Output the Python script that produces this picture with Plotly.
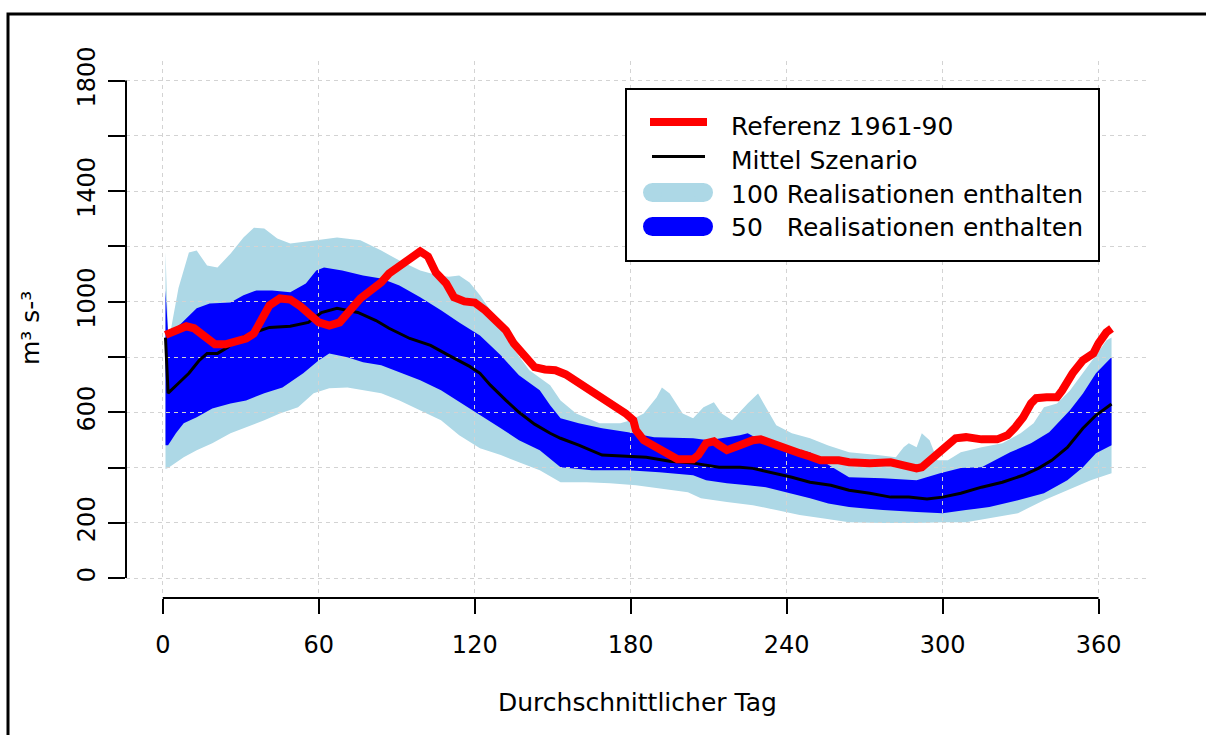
import plotly.graph_objects as go

# ---- daily discharge, reference period 1961-90 ----
ref_day = [1, 5, 9, 12, 16, 20, 24, 28, 32, 35, 38, 41, 45, 49, 53, 57, 60, 64, 68, 72,
           76, 80, 84, 87, 91, 95, 99, 102, 105, 109, 112, 116, 120, 124, 128, 132, 135,
           139, 143, 147, 151, 155, 159, 165, 172, 178, 181, 182, 185, 190, 194, 198, 204,
           206, 209, 212, 214, 217, 222, 227, 230, 235, 240, 245, 249, 253, 260, 264, 272,
           280, 285, 290, 292, 298, 302, 305, 309, 315, 321, 325, 328, 331, 334, 336, 340,
           344, 346, 350, 354, 358, 360, 363, 365]
ref_val = [880, 896, 911, 904, 871, 846, 846, 857, 867, 885, 940, 987, 1012, 1008, 983, 950,
           925, 914, 925, 969, 1012, 1041, 1070, 1102, 1131, 1157, 1182, 1164, 1106, 1066,
           1016, 1001, 997, 969, 932, 896, 849, 806, 763, 755, 752, 737, 712, 680, 632, 596,
           571, 535, 499, 470, 452, 430, 430, 445, 488, 495, 481, 463, 481, 499, 502, 484,
           463, 452, 440, 426, 426, 419, 416, 419, 408, 397, 401, 452, 488, 506, 510, 502,
           502, 517, 546, 582, 632, 651, 654, 654, 679, 741, 788, 813, 849, 889, 903]

# ---- scenario mean ----
mean_day = [1, 2, 6, 10, 14, 17, 21, 25, 28, 34, 41, 49, 56, 61, 67, 75, 82, 87, 95, 103,
            110, 118, 122, 126, 132, 137, 143, 149, 153, 160, 169, 178, 186, 195, 204, 214,
            222, 227, 234, 242, 249, 257, 264, 272, 280, 287, 294, 300, 307, 315, 323, 331,
            337, 342, 348, 354, 359, 365]
mean_val = [870, 669, 705, 741, 788, 813, 813, 835, 860, 885, 907, 911, 925, 961, 976, 961,
            932, 904, 867, 842, 806, 766, 741, 698, 643, 600, 557, 524, 506, 481, 445, 441,
            437, 423, 416, 401, 401, 397, 383, 365, 347, 336, 318, 307, 293, 293, 286, 293,
            307, 329, 347, 372, 398, 426, 473, 542, 589, 630]

# ---- envelope holding all 100 realisations ----
r100_hi_day = [1, 2, 3, 6, 10, 13, 17, 21, 26, 31, 35, 39, 44, 49, 59, 67, 76, 84, 91, 99,
               106, 110, 114, 118, 122, 126, 134, 141, 149, 153, 159, 168, 176, 180, 185,
               190, 192, 195, 200, 204, 208, 212, 215, 219, 225, 229, 232, 236, 242, 249,
               256, 264, 275, 282, 285, 287, 290, 292, 295, 298, 302, 307, 315, 323, 330,
               335, 339, 344, 349, 354, 359, 363, 365]
r100_hi = [1180, 890, 896, 1050, 1178, 1185, 1131, 1124, 1174, 1232, 1268, 1265, 1229, 1211,
           1222, 1232, 1222, 1185, 1149, 1113, 1095, 1090, 1095, 1070, 1023, 968, 842, 752,
           698, 643, 596, 560, 560, 571, 596, 654, 690, 668, 596, 578, 618, 636, 596, 571,
           632, 668, 618, 553, 524, 506, 480, 455, 445, 437, 473, 488, 473, 524, 499, 426,
           426, 455, 473, 488, 524, 560, 618, 632, 679, 741, 806, 860, 871]
r100_lo_day = [1, 2, 8, 13, 19, 26, 32, 39, 45, 52, 58, 64, 71, 77, 84, 91, 99, 107, 114,
               122, 130, 137, 145, 153, 163, 172, 182, 191, 202, 207, 217, 227, 236, 245,
               255, 264, 277, 290, 300, 309, 318, 329, 339, 348, 357, 365]
r100_lo = [395, 398, 437, 463, 488, 524, 546, 571, 596, 618, 669, 687, 690, 679, 669, 643,
           607, 571, 517, 470, 445, 419, 390, 347, 347, 343, 336, 325, 311, 289, 275, 264,
           246, 228, 215, 202, 199, 199, 202, 202, 217, 235, 282, 318, 354, 379]

# ---- envelope holding 50 realisations ----
r50_hi_day = [1, 2, 7, 13, 18, 26, 31, 36, 42, 49, 55, 59, 62, 69, 77, 84, 91, 99, 107, 114,
              122, 130, 137, 145, 149, 153, 160, 169, 179, 189, 204, 210, 222, 225, 230, 240,
              249, 256, 264, 277, 290, 299, 307, 315, 326, 334, 341, 349, 354, 359, 365]
r50_hi = [1041, 885, 921, 976, 994, 997, 1023, 1041, 1041, 1034, 1066, 1113, 1124, 1113,
          1095, 1084, 1059, 1016, 969, 925, 878, 806, 734, 680, 625, 578, 560, 542, 528, 510,
          506, 499, 517, 524, 499, 473, 455, 410, 365, 361, 354, 379, 398, 401, 455, 488, 528,
          607, 668, 741, 799]
r50_lo_day = [1, 2, 5, 8, 13, 19, 26, 32, 39, 46, 54, 60, 64, 71, 77, 84, 91, 99, 107, 114,
              122, 130, 137, 145, 153, 165, 179, 191, 204, 209, 217, 225, 232, 240, 249, 256,
              264, 277, 290, 300, 309, 318, 329, 339, 348, 354, 359, 365]
r50_lo = [481, 481, 524, 560, 582, 614, 632, 643, 669, 690, 741, 788, 813, 799, 781, 770, 745,
          716, 680, 636, 589, 542, 499, 463, 401, 390, 390, 383, 372, 354, 343, 336, 329, 311,
          289, 270, 257, 246, 239, 235, 246, 257, 282, 307, 354, 401, 452, 481]

x_ticks = [0, 60, 120, 180, 240, 300, 360]
y_ticks = [0, 200, 400, 600, 800, 1000, 1200, 1400, 1600, 1800]
y_tick_text = ["0", "200", "", "600", "", "1000", "", "1400", "", "1800"]

legend_labels = ["Referenz 1961-90", "Mittel Szenario",
                 "100 Realisationen enthalten", "50   Realisationen enthalten"]

RED = "#FF0000"
LIGHTBLUE = "#ADD8E6"
BLUE = "#0000FF"
GRID = "#D3D3D3"
FONT = "DejaVu Sans"

# page and plot-region geometry (pixels)
W, H = 1206, 735
L, R, T, B = 126, 1150, 61, 598
X_RANGE = [-14.2, 379.8]
Y_RANGE = [-72, 1871]


def px(x):
    return (x - L) / (R - L)


def py(y):
    return (B - y) / (B - T)


fig = go.Figure()

# bands on the lower subplot, so the grid of the upper subplot lies on top of them
fig.add_trace(go.Scatter(
    x=r100_hi_day + r100_lo_day[::-1], y=r100_hi + r100_lo[::-1],
    fill="toself", fillcolor=LIGHTBLUE, line=dict(width=0), mode="lines",
    hoverinfo="skip", xaxis="x", yaxis="y"))
fig.add_trace(go.Scatter(
    x=r50_hi_day + r50_lo_day[::-1], y=r50_hi + r50_lo[::-1],
    fill="toself", fillcolor=BLUE, line=dict(width=0), mode="lines",
    hoverinfo="skip", xaxis="x", yaxis="y"))

# lines above the grid
fig.add_trace(go.Scatter(x=mean_day, y=mean_val, mode="lines",
                         line=dict(color="black", width=3),
                         xaxis="x2", yaxis="y2"))
fig.add_trace(go.Scatter(x=ref_day, y=ref_val, mode="lines",
                         line=dict(color=RED, width=8),
                         xaxis="x2", yaxis="y2"))

tick_font = dict(family=FONT, size=24, color="black")

shapes = [
    # outer frame
    dict(type="rect", xref="paper", yref="paper",
         x0=px(8), x1=px(1240), y0=py(780), y1=py(14),
         line=dict(color="black", width=3), fillcolor="rgba(0,0,0,0)", layer="above"),
    # axis lines spanning the tick range only
    dict(type="line", xref="paper", yref="y", x0=0, x1=0, y0=y_ticks[0], y1=y_ticks[-1],
         line=dict(color="black", width=2)),
    dict(type="line", xref="x", yref="paper", x0=x_ticks[0], x1=x_ticks[-1], y0=0, y1=0,
         line=dict(color="black", width=2)),
    # legend box
    dict(type="rect", xref="paper", yref="paper",
         x0=px(626), x1=px(1099), y0=py(261), y1=py(89),
         line=dict(color="black", width=2), fillcolor="white"),
    dict(type="line", xref="paper", yref="paper",
         x0=px(650), x1=px(707), y0=py(122), y1=py(122),
         line=dict(color=RED, width=8)),
    dict(type="line", xref="paper", yref="paper",
         x0=px(652), x1=px(705), y0=py(156.5), y1=py(156.5),
         line=dict(color="black", width=3)),
]

# rounded keys for the two bands
for color, yc in [(LIGHTBLUE, 192.5), (BLUE, 226.5)]:
    half = 9.5
    shapes.append(dict(type="rect", xref="paper", yref="paper",
                       x0=px(652), x1=px(704), y0=py(yc + half), y1=py(yc - half),
                       fillcolor=color, line=dict(width=0)))
    for cx in (652.5, 703.5):
        shapes.append(dict(type="circle", xref="paper", yref="paper",
                           x0=px(cx - half), x1=px(cx + half),
                           y0=py(yc + half), y1=py(yc - half),
                           fillcolor=color, line=dict(width=0)))

annotations = []
for label, yc in zip(legend_labels, [127, 160.5, 194.5, 227.5]):
    annotations.append(dict(text=label, xref="paper", yref="paper",
                            x=px(729), y=py(yc), xanchor="left", yanchor="middle",
                            showarrow=False, font=dict(family=FONT, size=25, color="black")))

annotations.append(dict(text="Durchschnittlicher Tag", xref="paper", yref="paper",
                        x=px(637), y=py(702), xanchor="center", yanchor="middle",
                        showarrow=False, font=dict(family=FONT, size=25, color="black")))
annotations.append(dict(text="m³ s-³", xref="paper", yref="paper", textangle=-90,
                        x=px(30), y=py(328), xanchor="center", yanchor="middle",
                        showarrow=False, font=dict(family=FONT, size=25, color="black")))

fig.update_layout(
    width=W, height=H,
    margin=dict(l=L, r=W - R, t=T, b=H - B, pad=0),
    paper_bgcolor="white", plot_bgcolor="rgba(0,0,0,0)",
    showlegend=False,
    font=dict(family=FONT, size=24, color="black"),
    xaxis=dict(domain=[0, 1], range=X_RANGE, tickmode="array", tickvals=x_ticks,
               ticks="outside", ticklen=15, tickwidth=2, tickcolor="black",
               showgrid=False, zeroline=False, showline=False, tickfont=tick_font,
               ticklabelstandoff=10),
    yaxis=dict(domain=[0, 1], range=Y_RANGE, tickmode="array", tickvals=y_ticks,
               ticktext=y_tick_text, tickangle=-90,
               ticks="outside", ticklen=17, tickwidth=2, tickcolor="black",
               showgrid=False, zeroline=False, showline=False, tickfont=tick_font,
               ticklabelstandoff=3),
    xaxis2=dict(domain=[0, 1], range=X_RANGE, anchor="y2", tickmode="array",
                tickvals=x_ticks, showticklabels=False, ticks="",
                showgrid=True, gridcolor=GRID, gridwidth=1, griddash="4px,4px",
                zeroline=False, showline=False),
    yaxis2=dict(domain=[0, 1], range=Y_RANGE, anchor="x2", tickmode="array",
                tickvals=y_ticks, showticklabels=False, ticks="",
                showgrid=True, gridcolor=GRID, gridwidth=1, griddash="4px,4px",
                zeroline=False, showline=False),
    shapes=shapes,
    annotations=annotations,
)

fig.write_html("out.html")
